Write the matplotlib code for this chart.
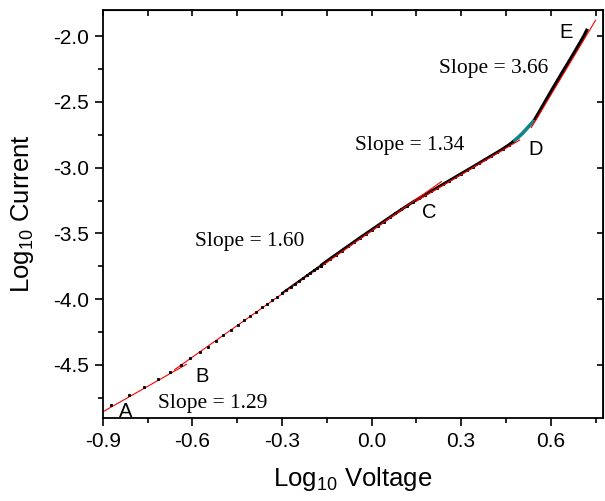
import numpy as np
import matplotlib
matplotlib.use("Agg")
import matplotlib.pyplot as plt
from matplotlib.ticker import MultipleLocator, FormatStrFormatter

plt.rcParams["mathtext.fontset"] = "custom"
plt.rcParams["mathtext.rm"] = "Liberation Sans"

# log10 V / log10 I
# sparse points (A -> B)
x_sparse = [-0.873, -0.813, -0.762, -0.716, -0.676, -0.639, -0.607, -0.576, -0.547, -0.522,
            -0.497, -0.472, -0.449, -0.427, -0.406, -0.386, -0.367, -0.349, -0.332, -0.316,
            -0.300, -0.285, -0.270, -0.256, -0.243, -0.230, -0.217, -0.205, -0.193, -0.182,
            -0.171]
y_sparse = [-4.803, -4.730, -4.670, -4.609, -4.551, -4.498, -4.449, -4.402, -4.361, -4.321,
            -4.272, -4.232, -4.196, -4.160, -4.126, -4.094, -4.062, -4.033, -4.006, -3.980,
            -3.954, -3.929, -3.905, -3.882, -3.861, -3.840, -3.819, -3.799, -3.780, -3.762,
            -3.745]

# dense part (B -> D)
x_dense = [-0.171, -0.160, -0.140, -0.120, -0.100, -0.080, -0.060, -0.040, -0.020, 0.000,
           0.020, 0.040, 0.060, 0.080, 0.100, 0.120, 0.140, 0.160, 0.180, 0.200,
           0.220, 0.240, 0.260, 0.280, 0.300, 0.320, 0.340, 0.360, 0.380, 0.400,
           0.420, 0.440, 0.460, 0.475]
y_dense = [-3.745, -3.727, -3.694, -3.662, -3.630, -3.598, -3.566, -3.534, -3.503, -3.472,
           -3.441, -3.410, -3.379, -3.348, -3.318, -3.288, -3.259, -3.232, -3.205, -3.178,
           -3.152, -3.125, -3.099, -3.072, -3.045, -3.019, -2.992, -2.965, -2.938, -2.911,
           -2.884, -2.856, -2.826, -2.800]

# transition (teal)
x_trans = [0.475, 0.490, 0.505, 0.520, 0.535, 0.545]
y_trans = [-2.800, -2.772, -2.740, -2.703, -2.665, -2.640]

# D -> E
x_high = [0.545, 0.560, 0.575, 0.590, 0.605, 0.620, 0.635, 0.650, 0.665, 0.680, 0.695, 0.710, 0.723]
y_high = [-2.640, -2.582, -2.523, -2.464, -2.405, -2.348, -2.290, -2.234, -2.178, -2.120,
          -2.062, -2.003, -1.945]

# fitted lines (x0, x1, y0, y1)
fit_ab = ([-0.90, -0.62], [-4.856, -4.495])
fit_bc = ([-0.66, 0.234], [-4.536, -3.106])
fit_cd = ([0.15, 0.496], [-3.254, -2.790])
fit_de = ([0.535, 0.750], [-2.695, -1.880])

labels = [("Slope = 1.29", -0.533, -4.79), ("Slope = 1.60", -0.407, -3.56),
          ("Slope = 1.34", 0.127, -2.833), ("Slope = 3.66", 0.41, -2.25)]
points = [("A", -0.823, -4.855), ("B", -0.567, -4.59), ("C", 0.193, -3.34),
          ("D", 0.55, -2.865), ("E", 0.65, -1.97)]

sans = "Liberation Sans"
serif = "Liberation Serif"

fig = plt.figure(figsize=(6.05, 5.01), dpi=100)
ax = fig.add_axes([0.170, 0.1657, 0.8267, 0.8143])

ax.plot(x_sparse, y_sparse, "s", color="k", ms=2.0, mew=0.6, zorder=3)
# points start merging: thin joining line where spacing gets small
ax.plot(x_sparse[20:], y_sparse[20:], "-", color="k", lw=1.3, zorder=2)
ax.plot(x_dense, y_dense, "-", color="k", lw=2.1, solid_capstyle="butt", zorder=2)
ax.plot(x_dense, y_dense, "s", color="k", ms=2.0, mew=0.6, zorder=2)
ax.plot(x_trans, y_trans, "-", color="#108585", lw=2.6, solid_capstyle="butt", zorder=2)
ax.plot(x_high, y_high, "-", color="k", lw=2.4, solid_capstyle="butt", zorder=2)

for fx, fy in (fit_ab, fit_bc, fit_cd, fit_de):
    ax.plot(fx, fy, "-", color="red", lw=0.8, zorder=2.5)

for txt, x, y in labels:
    ax.text(x, y, txt, family=serif, fontsize=15.5, ha="center", va="center")
for txt, x, y in points:
    ax.text(x, y, txt, family=sans, fontsize=14.5, ha="center", va="center")

ax.set_xlim(-0.9, 0.775)
ax.set_ylim(-4.903, -1.802)
ax.xaxis.set_major_locator(MultipleLocator(0.3))
ax.xaxis.set_minor_locator(MultipleLocator(0.15))
ax.yaxis.set_major_locator(MultipleLocator(0.5))
ax.yaxis.set_minor_locator(MultipleLocator(0.25))
ax.xaxis.set_major_formatter(FormatStrFormatter("%.1f"))
ax.yaxis.set_major_formatter(FormatStrFormatter("%.1f"))
ax.tick_params(which="major", direction="out", length=6, width=1.2, labelsize=15, pad=4)
ax.tick_params(which="minor", direction="out", length=3.5, width=1.2)
for lab in ax.get_xticklabels() + ax.get_yticklabels():
    lab.set_family(sans)
for sp in ax.spines.values():
    sp.set_linewidth(1.3)

# mirrored ticks pointing inward
top = ax.secondary_xaxis("top")
top.xaxis.set_major_locator(MultipleLocator(0.15))
top.tick_params(direction="in", length=4, width=1.2, labeltop=False)
right = ax.secondary_yaxis("right")
right.yaxis.set_major_locator(MultipleLocator(0.5))
right.tick_params(direction="in", length=4, width=1.2, labelright=False)

ax.set_xlabel("Log$_{10}$ Voltage", family=sans, fontsize=18.5, labelpad=10)
ax.set_ylabel("Log$_{10}$ Current", family=sans, fontsize=18.5, labelpad=12)

fig.savefig("out.png", dpi=100)
